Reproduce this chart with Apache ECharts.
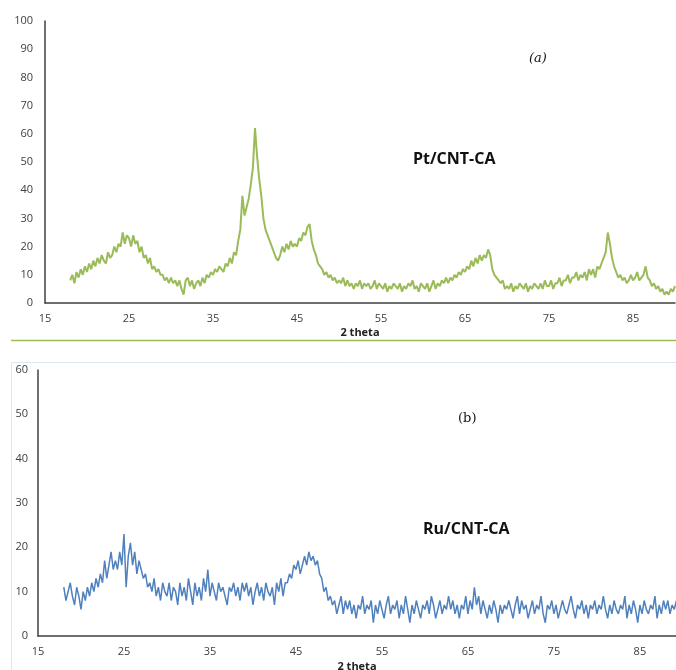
<!DOCTYPE html>
<html>
<head>
<meta charset="utf-8">
<script src="https://cdn.jsdelivr.net/npm/echarts@6/dist/echarts.min.js"></script>
<style>
  html, body { margin: 0; padding: 0; background: #fff; }
  #chart { width: 676px; height: 670px; }
</style>
</head>
<body>
<div id="chart"></div>
<script>
// scan starts at 18 deg, one reading every 0.25 deg up to 90
const thetaStart = 18;
const thetaStep = 0.25;

// Pt/CNT-CA intensities (panel a)
const ptCounts = [
  8, 10, 7, 11,   9, 12, 10, 13,   11, 14, 12, 15,   13, 16, 14, 17,
  15, 14, 18, 16,  17, 20, 18, 21,  20, 25, 21, 24,  23, 20, 24, 21,
  22, 18, 20, 16,  17, 14, 16, 12,  13, 11, 12, 10,  10, 8, 9, 7,
  9, 7, 8, 6,      8, 5, 3, 8,      9, 6, 8, 5,      7, 8, 6, 9,
  7, 10, 9, 11,    10, 12, 11, 13,  12, 11, 14, 13,  16, 14, 18, 17,
  22, 26, 38, 31,  34, 37, 42, 48,  62, 52, 44, 38,  30, 26, 24, 22,
  20, 18, 16, 15,  17, 20, 18, 21,  19, 22, 20, 21,  20, 23, 22, 25,
  24, 27, 28, 22,  19, 17, 14, 13,  12, 10, 11, 9,   10, 8, 9, 7,
  8, 7, 9, 6,      8, 6, 7, 5,      7, 6, 8, 5,      7, 6, 7, 5,
  6, 8, 5, 7,      6, 5, 7, 4,      6, 5, 7, 6,      5, 7, 4, 6,
  5, 7, 6, 8,      5, 6, 4, 7,      6, 5, 7, 4,      6, 8, 5, 7,
  6, 8, 7, 9,      7, 9, 8, 10,     9, 11, 10, 12,   11, 13, 12, 15,
  13, 16, 14, 17,  15, 17, 16, 19,  17, 12, 10, 9,   8, 7, 8, 5,
  6, 5, 7, 4,      6, 5, 7, 6,      5, 7, 4, 6,      5, 7, 6, 5,
  7, 5, 8, 6,      6, 8, 5, 7,      7, 9, 6, 8,      8, 10, 7, 9,
  9, 11, 8, 10,    9, 11, 8, 12,    10, 12, 9, 13,   12, 14, 16, 18,
  25, 21, 16, 13,  11, 9, 10, 8,    9, 7, 8, 10,     8, 9, 11, 8,
  9, 10, 13, 9,    8, 6, 7, 5,      6, 4, 5, 3,      4, 3, 5, 4,
  6
];

// Ru/CNT-CA intensities (panel b)
const ruCounts = [
  11, 8, 10, 12,   9, 7, 11, 9,     6, 10, 8, 11,    9, 12, 10, 13,
  11, 14, 12, 17,  13, 16, 19, 15,  17, 15, 19, 16,  23, 11, 18, 21,
  16, 19, 14, 17,  15, 13, 14, 11,  12, 10, 13, 9,   11, 8, 12, 10,
  9, 12, 8, 11,    10, 7, 12, 9,    11, 8, 13, 10,   7, 12, 9, 11,
  8, 13, 10, 15,   9, 12, 10, 8,    12, 10, 11, 9,   7, 11, 10, 12,
  9, 11, 8, 12,    10, 12, 9, 11,   7, 10, 12, 9,    11, 8, 12, 10,
  9, 11, 7, 12,    10, 13, 9, 12,   12, 14, 13, 16,  15, 17, 14, 16,
  18, 16, 19, 17,  18, 16, 17, 14,  13, 10, 11, 8,   9, 7, 8, 5,
  7, 9, 5, 8,      6, 8, 5, 7,      4, 7, 6, 9,      5, 7, 6, 8,
  3, 7, 5, 8,      6, 4, 7, 9,      5, 7, 6, 8,      4, 7, 5, 9,
  6, 3, 7, 5,      8, 6, 4, 7,      6, 8, 5, 9,      7, 4, 6, 8,
  5, 7, 6, 9,      6, 8, 5, 7,      4, 7, 6, 9,      5, 8, 6, 11,
  7, 9, 5, 8,      6, 4, 7, 5,      8, 6, 3, 7,      5, 7, 6, 8,
  6, 4, 7, 9,      5, 8, 6, 7,      4, 6, 8, 5,      7, 6, 9, 5,
  3, 7, 6, 8,      5, 7, 4, 6,      8, 6, 5, 7,      9, 6, 4, 7,
  6, 8, 5, 7,      4, 7, 6, 8,      5, 7, 6, 9,      6, 4, 7, 5,
  8, 6, 5, 7,      6, 9, 4, 7,      5, 8, 6, 3,      7, 5, 8, 6,
  5, 7, 6, 9,      4, 7, 5, 8,      6, 8, 5, 7,      6, 8, 5, 7,
  6
];

// axis ticks shown on both panels
const xTickLabels = [15, 25, 35, 45, 55, 65, 75, 85];

function toPairs(counts) {
  return counts.map((v, i) => [thetaStart + i * thetaStep, v]);
}

const labelFont = { color: '#404040', fontSize: 11, fontFamily: 'Open Sans' };

function xAxisFor(gridIndex, max, gap, margin) {
  return {
    type: 'value', gridIndex: gridIndex, min: 15, max: max, interval: 5,
    name: '2 theta', nameLocation: 'middle', nameGap: gap,
    nameTextStyle: { color: '#222', fontSize: 11, fontWeight: 'bold', fontFamily: 'Open Sans' },
    axisLine: { show: true, lineStyle: { color: '#404040', width: 1.5 } },
    axisTick: { show: false },
    splitLine: { show: false },
    axisLabel: Object.assign({}, labelFont, {
      margin: margin,
      formatter: v => xTickLabels.indexOf(v) >= 0 ? String(v) : ''
    })
  };
}

function yAxisFor(gridIndex, max, margin) {
  return {
    type: 'value', gridIndex: gridIndex, min: 0, max: max, interval: 10,
    axisLine: { show: true, lineStyle: { color: '#404040', width: 1.5 } },
    axisTick: { show: false },
    splitLine: { show: false },
    axisLabel: Object.assign({}, labelFont, { margin: margin })
  };
}

const chart = echarts.init(document.getElementById('chart'));
chart.setOption({
  animation: false,
  grid: [
    { left: 45, top: 21, width: 630, height: 282, outerBoundsMode: 'none' },
    { left: 38, top: 370, width: 638, height: 266, outerBoundsMode: 'none' }
  ],
  xAxis: [xAxisFor(0, 90, 24, 10), xAxisFor(1, 89.2, 25, 10)],
  yAxis: [yAxisFor(0, 100, 12), yAxisFor(1, 60, 10)],
  series: [
    {
      type: 'line', xAxisIndex: 0, yAxisIndex: 0, data: toPairs(ptCounts),
      showSymbol: false, lineStyle: { color: '#9bbb59', width: 2 }
    },
    {
      type: 'line', xAxisIndex: 1, yAxisIndex: 1, data: toPairs(ruCounts),
      showSymbol: false, lineStyle: { color: '#4f81bd', width: 1.5 }
    }
  ],
  graphic: [
    { type: 'line', shape: { x1: 11, y1: 340.5, x2: 676, y2: 340.5 },
      style: { stroke: '#9bbb59', lineWidth: 1.5 } },
    { type: 'rect', shape: { x: 11.5, y: 362.5, width: 700, height: 400 },
      style: { fill: 'none', stroke: '#dce6f2', lineWidth: 1 }, z: -1 },
    { type: 'text', left: 529, top: 52,
      style: { text: '(a)', font: 'italic 13px "DejaVu Serif"', fill: '#111' } },
    { type: 'text', left: 413, top: 151,
      style: { text: 'Pt/CNT-CA', font: 'bold 16px "Open Sans"', fill: '#111' } },
    { type: 'text', left: 458, top: 412,
      style: { text: '(b)', font: '13px "DejaVu Serif"', fill: '#111' } },
    { type: 'text', left: 423, top: 521,
      style: { text: 'Ru/CNT-CA', font: 'bold 16px "Open Sans"', fill: '#111' } }
  ]
});
</script>
</body>
</html>
